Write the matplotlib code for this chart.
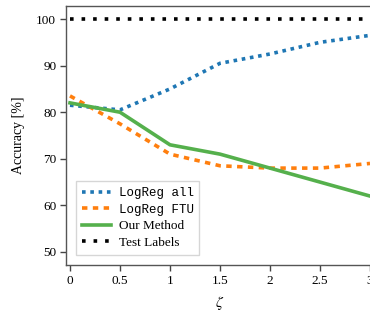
import matplotlib
matplotlib.use("Agg")
import matplotlib.pyplot as plt

zeta = [0, 0.5, 1, 1.5, 2, 2.5, 3]
logreg_all = [81.5, 80.5, 85.0, 90.5, 92.5, 95.0, 96.5]
logreg_ftu = [83.5, 77.5, 71.0, 68.5, 68.0, 68.0, 69.0]
our_method = [82.0, 80.0, 73.0, 71.0, 68.0, 65.0, 62.0]
test_labels = [100, 100, 100, 100, 100, 100, 100]
xticks = [0, 0.5, 1, 1.5, 2, 2.5, 3]
xticklabels = ["0", "0.5", "1", "1.5", "2", "2.5", "3"]
yticks = [50, 60, 70, 80, 90, 100]

plt.rcParams['font.family'] = ['Liberation Serif', 'DejaVu Serif']
plt.rcParams['mathtext.fontset'] = 'stix'

fig = plt.figure(figsize=(3.7, 3.12), dpi=100)
ax = fig.add_axes([66/370, 1-265/312, (374-66)/370, (265-6)/312])

lw = 2.6
ax.plot(zeta, logreg_all, color='#1f77b4', lw=lw, linestyle=(0, (1, 1.3)), label='LogReg all')
ax.plot(zeta, logreg_ftu, color='#ff7f0e', lw=lw, linestyle=(0, (1.5, 1.5)), label='LogReg FTU')
ax.plot(zeta, our_method, color='#55b04c', lw=lw, linestyle='-', label='Our Method')
ax.plot(zeta, test_labels, color='black', lw=lw, linestyle=(0, (1, 2.2)), label='Test Labels')

ax.set_xlim(-0.04, 3.04)
ax.set_ylim(47.2, 102.8)
ax.set_xticks(xticks)
ax.set_xticklabels(xticklabels)
ax.set_yticks(yticks)
ax.tick_params(labelsize=9.5, direction='out', length=4, width=1, color='#444444', pad=3)
for s in ['left', 'bottom', 'top', 'right']:
    ax.spines[s].set_color('#555555')
    ax.spines[s].set_linewidth(1.0)

ax.set_xlabel(r'$\zeta$', fontsize=11, labelpad=5)
ax.set_ylabel('Accuracy [%]', fontsize=10, labelpad=8)

leg = ax.legend(loc='lower left', fontsize=9.5, fancybox=False, edgecolor='#cccccc',
                handlelength=2.2, borderpad=0.45, labelspacing=0.32, handletextpad=0.6,
                bbox_to_anchor=(0.01, 0.015))
for t in leg.get_texts()[:2]:
    t.set_family(['Liberation Mono', 'DejaVu Sans Mono'])
    t.set_fontsize(9)

fig.savefig('out.png', dpi=100)
